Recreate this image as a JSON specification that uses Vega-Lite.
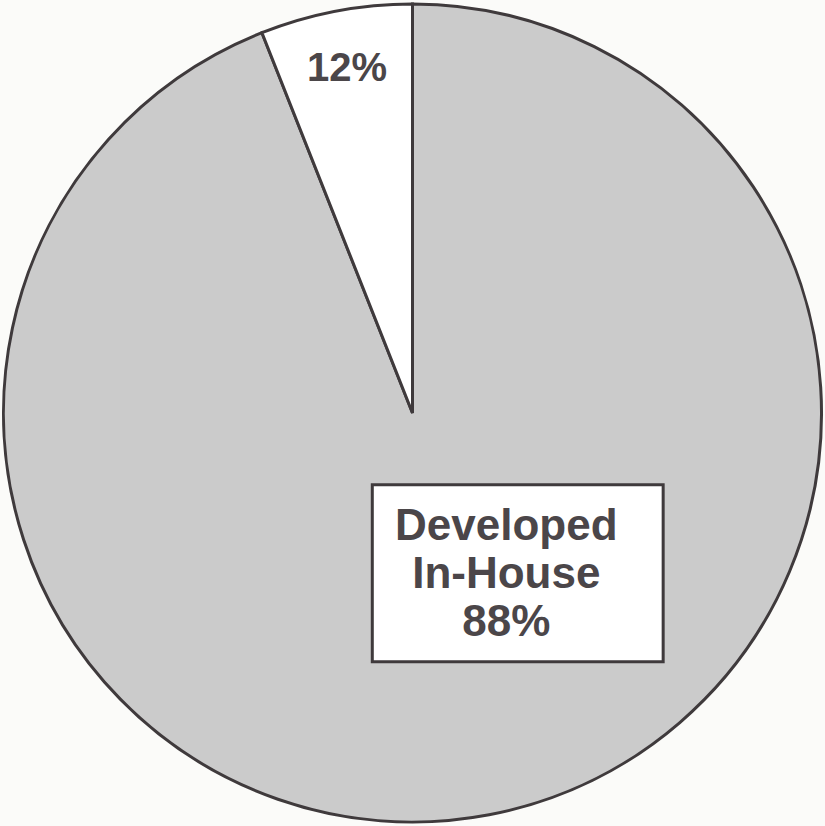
{
  "$schema": "https://vega.github.io/schema/vega-lite/v6.json",
  "width": 825,
  "height": 826,
  "autosize": {"type": "fit", "contains": "padding"},
  "padding": 0,
  "background": "#fbfbf9",
  "config": {"view": {"stroke": null}},
  "data": {
    "values": [
      {"source": "Developed In-House", "share": 94, "label": "Developed\nIn-House\n88%"},
      {"source": "Other", "share": 6, "label": "12%"}
    ]
  },
  "layer": [
    {
      "mark": {"type": "arc", "radius": 409, "stroke": "#3f3a3c", "strokeWidth": 3},
      "encoding": {
        "theta": {"field": "share", "type": "quantitative", "stack": true},
        "order": {"field": "share", "sort": "descending"},
        "color": {
          "field": "source",
          "type": "nominal",
          "scale": {"domain": ["Developed In-House", "Other"], "range": ["#cbcbcb", "#ffffff"]},
          "legend": null
        }
      }
    },
    {
      "mark": {"type": "text", "radius": 350, "font": "Liberation Sans", "fontWeight": "bold", "fontSize": 40, "fill": "#4b4649", "align": "center", "baseline": "middle"},
      "encoding": {
        "theta": {"field": "share", "type": "quantitative", "stack": true},
        "order": {"field": "share", "sort": "descending"},
        "text": {"condition": {"test": "datum.source === 'Other'", "field": "label"}, "value": ""}
      }
    },
    {
      "transform": [{"filter": "datum.source === 'Developed In-House'"}],
      "mark": {"type": "rect", "fill": "#ffffff", "stroke": "#3f3a3c", "strokeWidth": 3},
      "encoding": {
        "x": {"datum": 372, "type": "quantitative", "scale": {"domain": [0, 825], "nice": false, "zero": false}, "axis": null},
        "x2": {"datum": 665},
        "y": {"datum": 485, "type": "quantitative", "scale": {"domain": [0, 826], "nice": false, "zero": false, "reverse": true}, "axis": null},
        "y2": {"datum": 663}
      }
    },
    {
      "transform": [{"filter": "datum.source === 'Developed In-House'"}],
      "mark": {"type": "text", "font": "Liberation Sans", "fontWeight": "bold", "fontSize": 44, "lineHeight": 48, "lineBreak": "\n", "fill": "#4b4649", "align": "center", "baseline": "middle"},
      "encoding": {
        "x": {"datum": 507, "type": "quantitative", "scale": {"domain": [0, 825], "nice": false, "zero": false}, "axis": null},
        "y": {"datum": 528, "type": "quantitative", "scale": {"domain": [0, 826], "nice": false, "zero": false, "reverse": true}, "axis": null},
        "text": {"field": "label"}
      }
    }
  ]
}
